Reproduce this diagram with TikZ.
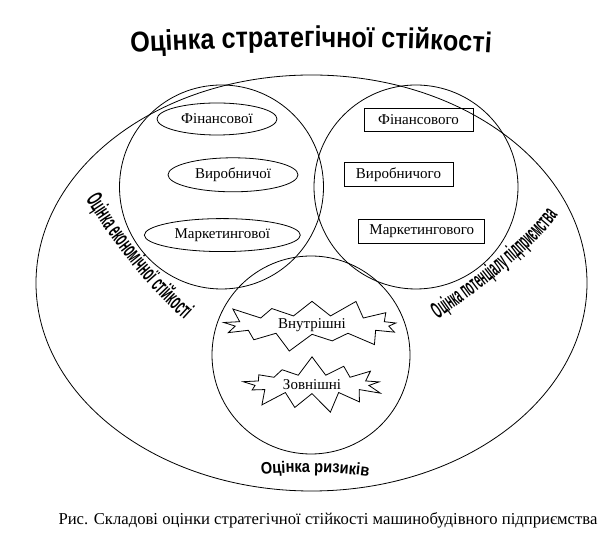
\documentclass[tikz,border=0pt]{standalone}
\usepackage{fontspec}
\setmainfont{Liberation Serif}
\newfontfamily\wordart{Liberation Sans}[FakeStretch=0.88]
\newfontfamily\narrowart{Liberation Sans}[FakeStretch=0.47]
\newfontfamily\narrowerart{Liberation Sans}[FakeStretch=0.42]
\usetikzlibrary{shapes.geometric,shapes.symbols,positioning,decorations.text}

\begin{document}
\begin{tikzpicture}[
  x=0.75pt, y=0.75pt,
  ring/.style={line width=0.6pt},
  oval/.style={draw, ellipse, line width=0.6pt, inner sep=0pt, font=\fontsize{11.25}{13}\selectfont},
  plate/.style={draw, rectangle, line width=0.6pt, inner sep=0pt, font=\fontsize{11.25}{13}\selectfont},
  burst/.style={draw, starburst, starburst points=13, starburst point height=15pt, line width=0.6pt, inner sep=0pt, font=\fontsize{11.25}{13}\selectfont},
  arclabel/.style={decorate, decoration={text along path, text align=center, text={#1}}}
]
  \useasboundingbox (0,0) rectangle (614,542);

  % big oval and the three circles
  \draw[ring] (311.5,259) ellipse [x radius=275.5, y radius=208];
  \draw[ring] (221.5,355) circle [radius=102];
  \draw[ring] (416,355) circle [radius=102];
  \draw[ring] (311,187) circle [radius=99];

  % economic stability
  \node[oval, minimum width=90pt, minimum height=24pt] (finoval) at (217,423) {Фінансової};
  \node[oval, minimum width=97.5pt, minimum height=25.5pt, below=16.5pt of finoval, xshift=12pt] (virobOval) {Виробничої};
  \node[oval, minimum width=117pt, minimum height=24.75pt, below=19.5pt of virobOval, xshift=-8pt] (marketOval) {Маркетингової};

  % potential of the enterprise
  \node[plate, minimum width=81.75pt, minimum height=17.25pt] (finbox) at (418.5,422.5) {Фінансового};
  \node[plate, minimum width=81.75pt, minimum height=18pt, below=23pt of finbox, xshift=-15pt] (virobBox) {Виробничого};
  \node[plate, minimum width=94.5pt, minimum height=18pt, below=24pt of virobBox, xshift=17.5pt] (marketBox) {Маркетингового};

  % risks
  \node[burst, minimum width=146pt, minimum height=44pt] (inner) at (312,217) {Внутрішні};
  \node[burst, minimum width=116pt, minimum height=44pt, random starburst=7, below=16pt of inner] (outer) {Зовнішні};

  % curved captions
  \path[arclabel={|\wordart\bfseries\fontsize{21.5}{23}\selectfont|Оцінка стратегічної стійкості}]
    (125,489) .. controls (250,497) and (370,497) .. (497,489);
  \path[arclabel={|\narrowart\bfseries\fontsize{17.5}{19}\selectfont|Оцінка економічної стійкості}]
    (76,358) .. controls (112,299) and (145,255) .. (198,210);
  \path[arclabel={|\narrowerart\bfseries\fontsize{17.5}{19}\selectfont|Оцінка потенціалу підприємства}]
    (428,216) .. controls (474,248) and (533,289) .. (565,336);
  \path[arclabel={|\wordart\bfseries\fontsize{12.5}{14}\selectfont|Оцінка ризиків}]
    (250,66) .. controls (290,71) and (340,71) .. (380,64);

  \node[font=\fontsize{12.5}{14}\selectfont] (caption) at (328,22) {Рис. Складові оцінки стратегічної стійкості машинобудівного підприємства};
\end{tikzpicture}
\end{document}
